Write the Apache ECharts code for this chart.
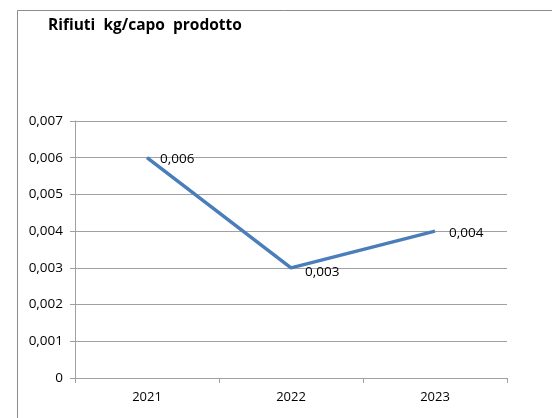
<!DOCTYPE html>
<html><head><meta charset="utf-8">
<script src="https://cdn.jsdelivr.net/npm/echarts@6/dist/echarts.min.js"></script>
<style>html,body{margin:0;padding:0;background:#fff}#c{width:552px;height:418px}</style>
</head><body><div id="c"></div>
<script>
const categories = ['2021', '2022', '2023'];
const values = [0.006, 0.003, 0.004];
const yTicks = [0, 0.001, 0.002, 0.003, 0.004, 0.005, 0.006, 0.007];

const fmt = v => v === 0 ? '0' : v.toFixed(3).replace('.', ',');
const labelPos = [
  {position: 'right', offset: [8, 1]},
  {position: 'right', offset: [9, 4]},
  {position: 'right', offset: [9, 2]}
];
const FF = '"Open Sans", sans-serif';
const chart = echarts.init(document.getElementById('c'));
chart.setOption({
  animation: false,
  textStyle: {fontFamily: FF},
  title: {
    text: 'Rifiuti  kg/capo  prodotto', left: 43, top: 13,
    textStyle: {fontSize: 15.5, fontWeight: 'bold', color: '#000', fontFamily: FF}
  },
  graphic: [
    {type: 'line', shape: {x1: 17.5, y1: 10.5, x2: 552, y2: 10.5}, style: {stroke: '#8c8c8c', lineWidth: 1}},
    {type: 'line', shape: {x1: 17.5, y1: 10.5, x2: 17.5, y2: 418}, style: {stroke: '#8c8c8c', lineWidth: 1}}
  ],
  grid: {left: 75, right: 45, top: 121, bottom: 40, containLabel: false},
  xAxis: {
    type: 'category', data: categories, boundaryGap: true,
    axisLine: {lineStyle: {color: '#a0a0a0', width: 1}},
    axisTick: {show: true, length: 5, lineStyle: {color: '#a0a0a0'}},
    axisLabel: {color: '#000', fontSize: 13, margin: 13, fontFamily: FF}
  },
  yAxis: {
    type: 'value', min: 0, max: 0.007, interval: 0.001,
    axisLine: {show: true, lineStyle: {color: '#a0a0a0', width: 1}},
    axisTick: {show: true, length: 5, lineStyle: {color: '#a0a0a0'}},
    splitLine: {lineStyle: {color: '#a0a0a0', width: 1}},
    axisLabel: {color: '#000', fontSize: 13.5, margin: 12, formatter: v => yTicks.includes(+v.toFixed(3)) ? fmt(v) : '', fontFamily: FF}
  },
  series: [{
    type: 'line', data: values.map((v, i) => ({value: v, label: labelPos[i]})),
    symbol: 'circle', symbolSize: 0, showSymbol: true,
    lineStyle: {color: '#4a7ebb', width: 3.5},
    itemStyle: {color: '#4a7ebb'},
    label: {show: true, color: '#000', fontSize: 13.5, formatter: p => fmt(p.value), fontFamily: FF}
  }]
});
</script></body></html>
